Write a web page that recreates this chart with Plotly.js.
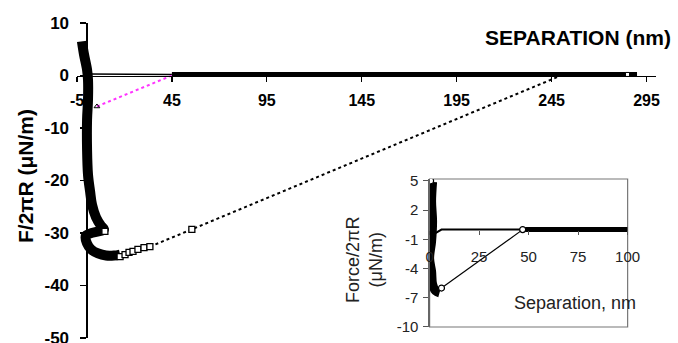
<!DOCTYPE html>
<html>
<head>
<meta charset="utf-8">
<script src="https://cdn.plot.ly/plotly-3.0.1.min.js"></script>
<style>html,body{margin:0;padding:0;background:#fff;}#chart{width:678px;height:343px;}</style>
</head>
<body>
<div id="chart"></div>
<script>
// ---- Main chart data (separation nm, F/2piR uN/m) ----
var mainXTicks = [-5, 45, 95, 145, 195, 245, 295];
var mainYTicks = [10, 0, -10, -20, -30, -40, -50];

var pullX = [-2.4, -1.3, 0.3, 0.8, 0.8, 0.3, 0.3, 0.8, 1.9, 2.9, 5.0, 7.6, 9.2, -0.3, 0.3, 2.4, 6.1, 10.3, 14.5, 17.7];
var pullY = [6.5, 4.0, 1.1, -0.8, -4.6, -8.4, -14.1, -18.9, -22.1, -24.6, -27.0, -28.6, -29.3, -30.5, -32.0, -33.1, -33.9, -34.3, -34.3, -34.1];

var tailX = [17.7, 20.3, 22.4, 24.5, 27.1, 30.3, 33.4];
var tailY = [-34.5, -34.1, -33.7, -33.5, -33.1, -32.8, -32.6];
var kinkX = [9.7];
var kinkY = [-29.7];

var jumpX = [33.4, 55.5, 250];
var jumpY = [-32.6, -29.3, 0];

var baseThinX = [0.8, 45];
var baseThinY = [0.3, 0.2];
var baseThickX = [45, 290];
var baseThickY = [0.2, 0.2];
var endSqX = [285];
var endSqY = [0.2];

var magX = [5.5, 45];
var magY = [-5.9, 0];

// ---- Inset data ----
var insetXTicks = [0, 25, 50, 75, 100];
var insetYTicks = [5, 2, -1, -4, -7, -10];

var inCurveX = [1.5, 1.0, 1.5, 1.0, 0.0, 1.0, 1.5, 3.0, 5.0];
var inCurveY = [4.9, 2.9, 0.85, -1.2, -2.95, -4.3, -5.6, -6.3, -6.5];
var inTopX = [0.5];
var inTopY = [5.0];
var inJumpX = [6, 47];
var inJumpY = [-6.0, 0];
var inBaseThinX = [2.5, 6, 47];
var inBaseThinY = [-0.4, 0, 0];
var inBaseThickX = [47, 100];
var inBaseThickY = [0, 0];

var FONT = "Liberation Sans, Arial, sans-serif";

var traces = [
  {x: baseThinX, y: baseThinY, mode: 'lines', line: {color: '#000', width: 1.6}, xaxis: 'x', yaxis: 'y', hoverinfo: 'skip'},
  {x: baseThickX, y: baseThickY, mode: 'lines', line: {color: '#000', width: 5}, xaxis: 'x', yaxis: 'y'},
  {x: endSqX, y: endSqY, mode: 'markers', marker: {symbol: 'square', size: 4, color: '#fff', line: {color: '#000', width: 1}}},
  {x: magX, y: magY, mode: 'lines', line: {color: '#ff33ff', width: 2, dash: 'dot'}},
  {x: [magX[0]], y: [magY[0]], mode: 'markers', marker: {symbol: 'triangle-up-open', size: 5, color: '#000', line: {width: 1}}},
  {x: jumpX, y: jumpY, mode: 'lines', line: {color: '#000', width: 2, dash: 'dot'}},
  {x: [jumpX[1]], y: [jumpY[1]], mode: 'markers', marker: {symbol: 'square', size: 6, color: '#fff', line: {color: '#000', width: 1.3}}},
  {x: pullX, y: pullY, mode: 'lines', line: {color: '#000', width: 10, shape: 'spline'}},
  {x: tailX, y: tailY, mode: 'lines+markers', line: {color: '#000', width: 3}, marker: {symbol: 'square', size: 6, color: '#fff', line: {color: '#000', width: 1.3}}},
  {x: kinkX, y: kinkY, mode: 'markers', marker: {symbol: 'square', size: 6, color: '#fff', line: {color: '#000', width: 1.3}}},

  // inset
  {x: inBaseThinX, y: inBaseThinY, mode: 'lines', line: {color: '#000', width: 2}, xaxis: 'x2', yaxis: 'y2'},
  {x: inBaseThickX, y: inBaseThickY, mode: 'lines', line: {color: '#000', width: 5}, xaxis: 'x2', yaxis: 'y2'},
  {x: inJumpX, y: inJumpY, mode: 'lines', line: {color: '#000', width: 1.2}, xaxis: 'x2', yaxis: 'y2'},
  {x: inCurveX, y: inCurveY, mode: 'lines', line: {color: '#000', width: 9, shape: 'spline'}, xaxis: 'x2', yaxis: 'y2'},
  {x: inTopX.concat([inJumpX[0], inJumpX[1]]), y: inTopY.concat([inJumpY[0], inJumpY[1]]), mode: 'markers',
   marker: {symbol: 'circle', size: 6, color: '#fff', line: {color: '#000', width: 1.2}}, xaxis: 'x2', yaxis: 'y2'}
];

var layout = {
  width: 678, height: 343,
  margin: {l: 77, r: 22, t: 23, b: 5},
  paper_bgcolor: '#fff', plot_bgcolor: 'rgba(0,0,0,0)',
  showlegend: false,
  xaxis: {
    domain: [0, 1], range: [-5, 300], anchor: 'free', position: 50 / 60,
    tickmode: 'array', tickvals: mainXTicks, ticktext: mainXTicks.map(String),
    ticks: 'outside', ticklen: 5, tickcolor: '#000', tickwidth: 1.2,
    showline: true, linecolor: '#000', linewidth: 1.3,
    showgrid: false, zeroline: false,
    ticklabelstandoff: 5, ticklabeloverflow: 'allow',
    tickfont: {family: FONT, size: 16, color: '#000', weight: 'bold'}
  },
  yaxis: {
    domain: [0, 1], range: [-50, 10], anchor: 'free', position: 5 / 305,
    tickmode: 'array', tickvals: mainYTicks, ticktext: mainYTicks.map(String),
    ticks: 'outside', ticklen: 6, tickcolor: '#000', tickwidth: 1.2,
    showline: true, linecolor: '#000', linewidth: 1.3,
    showgrid: false, zeroline: false,
    ticklabelstandoff: 8, ticklabeloverflow: 'allow',
    tickfont: {family: FONT, size: 17, color: '#000', weight: 'bold'}
  },
  xaxis2: {
    domain: [0.609, 0.951], range: [0, 100], anchor: 'free', position: 0.344,
    tickmode: 'array', tickvals: insetXTicks, ticktext: insetXTicks.map(String),
    ticks: 'outside', ticklen: 4, tickcolor: '#555', tickwidth: 1,
    showline: false, showgrid: false, zeroline: false,
    ticklabelstandoff: 9, ticklabeloverflow: 'allow',
    tickfont: {family: FONT, size: 15, color: '#222'}
  },
  yaxis2: {
    domain: [0.035, 0.5048], range: [-10, 5.2], anchor: 'x2',
    tickmode: 'array', tickvals: insetYTicks, ticktext: insetYTicks.map(String),
    ticks: 'outside', ticklen: 5, tickcolor: '#555', tickwidth: 1,
    showline: true, linecolor: '#666', linewidth: 1.2,
    showgrid: false, zeroline: false,
    ticklabelstandoff: 2, ticklabeloverflow: 'allow',
    tickfont: {family: FONT, size: 15, color: '#222'}
  },
  shapes: [
    {type: 'rect', xref: 'x2 domain', yref: 'y2 domain', x0: 0, x1: 1, y0: 0, y1: 1,
     line: {color: '#777', width: 1.2}, fillcolor: 'rgba(0,0,0,0)', layer: 'below'}
  ],
  annotations: [
    {text: 'SEPARATION (nm)', xref: 'paper', yref: 'paper', x: (673 - 77) / 579, y: 0.955, xanchor: 'right', yanchor: 'middle',
     showarrow: false, font: {family: FONT, size: 21, color: '#000', weight: 'bold'}},
    {text: 'F/2πR (μN/m)', xref: 'paper', yref: 'paper', x: (25 - 77) / 579, y: (338 - 176) / 315, xanchor: 'center', yanchor: 'middle',
     textangle: -90, showarrow: false, font: {family: FONT, size: 21, color: '#000', weight: 'bold'}},
    {text: 'Separation, nm', xref: 'paper', yref: 'paper', x: (575 - 77) / 579, y: (338 - 303) / 315, xanchor: 'center', yanchor: 'middle',
     showarrow: false, font: {family: FONT, size: 18, color: '#222'}},
    {text: 'Force/2πR<br>(μN/m)', xref: 'paper', yref: 'paper', x: (364 - 77) / 579, y: (338 - 260) / 315, xanchor: 'center', yanchor: 'middle',
     textangle: -90, showarrow: false, font: {family: FONT, size: 18, color: '#222'}}
  ]
};

Plotly.newPlot('chart', traces, layout, {staticPlot: true, displayModeBar: false});
</script>
</body>
</html>
